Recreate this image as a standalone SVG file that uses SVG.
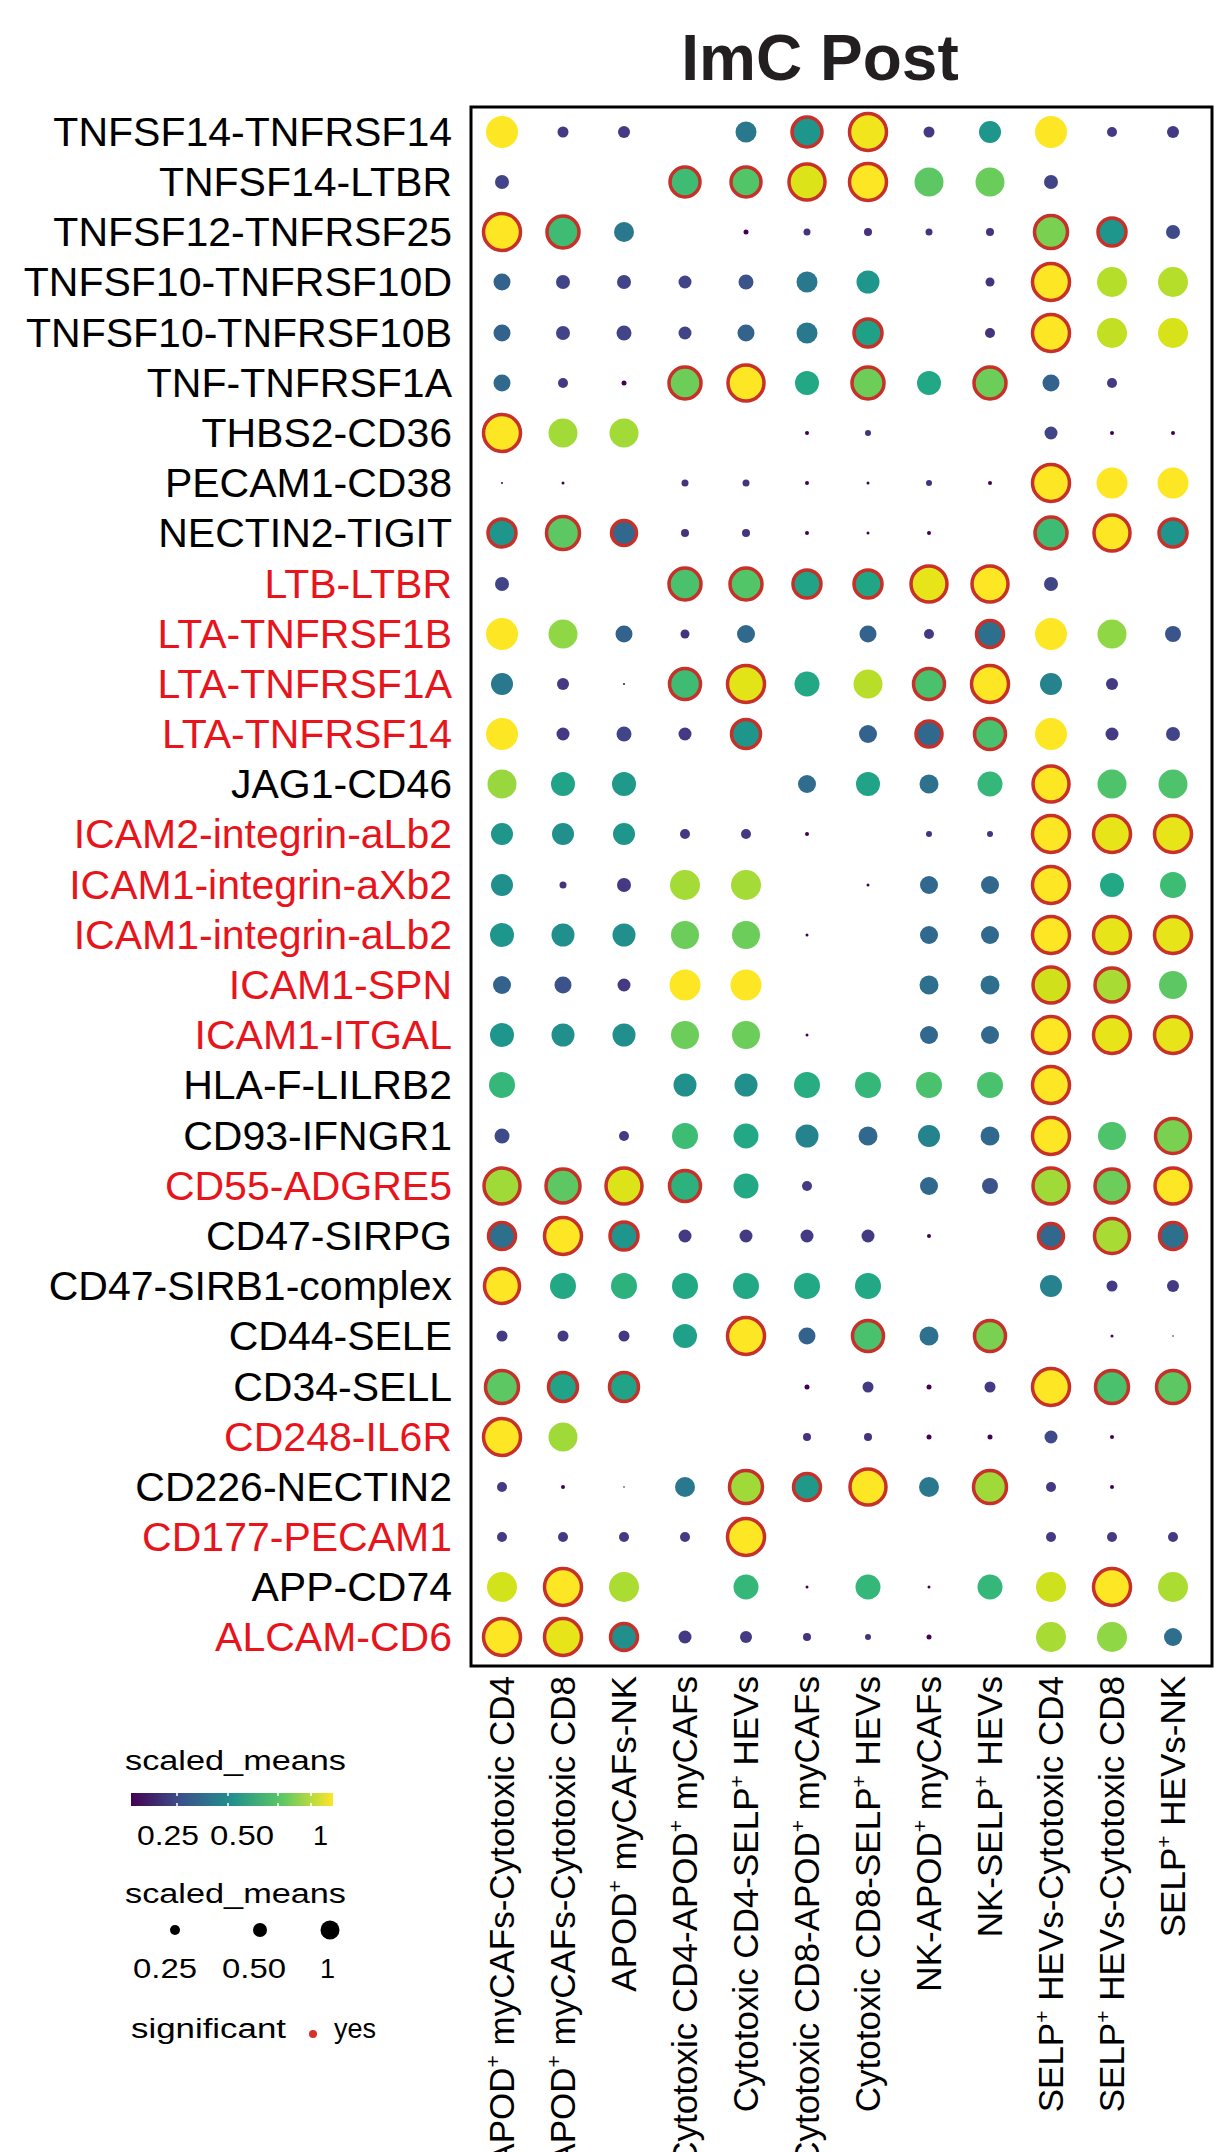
<svg xmlns="http://www.w3.org/2000/svg" width="1226" height="2152" viewBox="0 0 1226 2152">
<style>
text{font-family:"Liberation Sans",Arial,sans-serif;fill:#000}
.rl{font-size:41px;text-anchor:end}
.red{fill:#E8141B}
.cl{font-size:35px;text-anchor:end}
.lg{font-size:27px}
.s{stroke:#C8302A;stroke-width:3.5}
</style>
<defs>
<linearGradient id="vir" x1="0" x2="1" y1="0" y2="0">
<stop offset="0" stop-color="#440154"/><stop offset="0.25" stop-color="#3B528B"/><stop offset="0.5" stop-color="#21908D"/><stop offset="0.75" stop-color="#5DC863"/><stop offset="1" stop-color="#FDE725"/>
</linearGradient>
</defs>
<rect width="1226" height="2152" fill="#fff"/>
<text x="820" y="80" style="font-size:64px;font-weight:bold;text-anchor:middle;fill:#231f20">ImC Post</text>
<rect x="471" y="107" width="741" height="1559" fill="none" stroke="#000" stroke-width="3"/>
<g id="row-labels">
<text class="rl" x="452" y="146">TNFSF14-TNFRSF14</text>
<text class="rl" x="452" y="196">TNFSF14-LTBR</text>
<text class="rl" x="452" y="246">TNFSF12-TNFRSF25</text>
<text class="rl" x="452" y="296">TNFSF10-TNFRSF10D</text>
<text class="rl" x="452" y="347">TNFSF10-TNFRSF10B</text>
<text class="rl" x="452" y="397">TNF-TNFRSF1A</text>
<text class="rl" x="452" y="447">THBS2-CD36</text>
<text class="rl" x="452" y="497">PECAM1-CD38</text>
<text class="rl" x="452" y="547">NECTIN2-TIGIT</text>
<text class="rl red" x="452" y="598">LTB-LTBR</text>
<text class="rl red" x="452" y="648">LTA-TNFRSF1B</text>
<text class="rl red" x="452" y="698">LTA-TNFRSF1A</text>
<text class="rl red" x="452" y="748">LTA-TNFRSF14</text>
<text class="rl" x="452" y="798">JAG1-CD46</text>
<text class="rl red" x="452" y="848">ICAM2-integrin-aLb2</text>
<text class="rl red" x="452" y="899">ICAM1-integrin-aXb2</text>
<text class="rl red" x="452" y="949">ICAM1-integrin-aLb2</text>
<text class="rl red" x="452" y="999">ICAM1-SPN</text>
<text class="rl red" x="452" y="1049">ICAM1-ITGAL</text>
<text class="rl" x="452" y="1099">HLA-F-LILRB2</text>
<text class="rl" x="452" y="1150">CD93-IFNGR1</text>
<text class="rl red" x="452" y="1200">CD55-ADGRE5</text>
<text class="rl" x="452" y="1250">CD47-SIRPG</text>
<text class="rl" x="452" y="1300">CD47-SIRB1-complex</text>
<text class="rl" x="452" y="1350">CD44-SELE</text>
<text class="rl" x="452" y="1401">CD34-SELL</text>
<text class="rl red" x="452" y="1451">CD248-IL6R</text>
<text class="rl" x="452" y="1501">CD226-NECTIN2</text>
<text class="rl red" x="452" y="1551">CD177-PECAM1</text>
<text class="rl" x="452" y="1601">APP-CD74</text>
<text class="rl red" x="452" y="1651">ALCAM-CD6</text>
</g>
<g id="col-labels">
<text class="cl" transform="translate(514,1676) rotate(-90)">APOD<tspan font-size="21" dy="-14">+</tspan><tspan dy="14"> myCAFs-Cytotoxic CD4</tspan></text>
<text class="cl" transform="translate(575,1676) rotate(-90)">APOD<tspan font-size="21" dy="-14">+</tspan><tspan dy="14"> myCAFs-Cytotoxic CD8</tspan></text>
<text class="cl" transform="translate(636,1676) rotate(-90)">APOD<tspan font-size="21" dy="-14">+</tspan><tspan dy="14"> myCAFs-NK</tspan></text>
<text class="cl" transform="translate(697,1676) rotate(-90)">Cytotoxic CD4-APOD<tspan font-size="21" dy="-14">+</tspan><tspan dy="14"> myCAFs</tspan></text>
<text class="cl" transform="translate(758,1676) rotate(-90)">Cytotoxic CD4-SELP<tspan font-size="21" dy="-14">+</tspan><tspan dy="14"> HEVs</tspan></text>
<text class="cl" transform="translate(819,1676) rotate(-90)">Cytotoxic CD8-APOD<tspan font-size="21" dy="-14">+</tspan><tspan dy="14"> myCAFs</tspan></text>
<text class="cl" transform="translate(880,1676) rotate(-90)">Cytotoxic CD8-SELP<tspan font-size="21" dy="-14">+</tspan><tspan dy="14"> HEVs</tspan></text>
<text class="cl" transform="translate(941,1676) rotate(-90)">NK-APOD<tspan font-size="21" dy="-14">+</tspan><tspan dy="14"> myCAFs</tspan></text>
<text class="cl" transform="translate(1002,1676) rotate(-90)">NK-SELP<tspan font-size="21" dy="-14">+</tspan><tspan dy="14"> HEVs</tspan></text>
<text class="cl" transform="translate(1063,1676) rotate(-90)">SELP<tspan font-size="21" dy="-14">+</tspan><tspan dy="14"> HEVs-Cytotoxic CD4</tspan></text>
<text class="cl" transform="translate(1124,1676) rotate(-90)">SELP<tspan font-size="21" dy="-14">+</tspan><tspan dy="14"> HEVs-Cytotoxic CD8</tspan></text>
<text class="cl" transform="translate(1185,1676) rotate(-90)">SELP<tspan font-size="21" dy="-14">+</tspan><tspan dy="14"> HEVs-NK</tspan></text>
</g>
<g id="dots">
<g transform="translate(0,132)">
<circle cx="502" r="16" fill="#FDE725"/><circle cx="563" r="5.5" fill="#443A83"/><circle cx="624" r="6" fill="#443A83"/><circle cx="746" r="10.5" fill="#2A788E"/><circle cx="807" r="15" fill="#1F968B" class="s"/><circle cx="868" r="18.5" fill="#F1E51D" class="s"/><circle cx="929" r="5.5" fill="#443A83"/><circle cx="990" r="11" fill="#1F968B"/><circle cx="1051" r="16" fill="#FDE725"/><circle cx="1112" r="5" fill="#443A83"/><circle cx="1173" r="6" fill="#443A83"/>
</g>
<g transform="translate(0,182)">
<circle cx="502" r="7" fill="#414487"/><circle cx="685" r="15" fill="#3FBC73" class="s"/><circle cx="746" r="15" fill="#52C569" class="s"/><circle cx="807" r="18" fill="#DCE319" class="s"/><circle cx="868" r="18.5" fill="#FDE725" class="s"/><circle cx="929" r="14.5" fill="#5DC863"/><circle cx="990" r="14.5" fill="#6ACD5B"/><circle cx="1051" r="7" fill="#414487"/>
</g>
<g transform="translate(0,232)">
<circle cx="502" r="18.5" fill="#FDE725" class="s"/><circle cx="563" r="16" fill="#3FBC73" class="s"/><circle cx="624" r="10" fill="#2A788E"/><circle cx="746" r="2.5" fill="#440154"/><circle cx="807" r="3.5" fill="#46337E"/><circle cx="868" r="4" fill="#46337E"/><circle cx="929" r="3.5" fill="#46337E"/><circle cx="990" r="4" fill="#46337E"/><circle cx="1051" r="16.5" fill="#7AD151" class="s"/><circle cx="1112" r="14" fill="#1F968B" class="s"/><circle cx="1173" r="7" fill="#3E4A89"/>
</g>
<g transform="translate(0,282)">
<circle cx="502" r="8.5" fill="#33638D"/><circle cx="563" r="7" fill="#414487"/><circle cx="624" r="7" fill="#414487"/><circle cx="685" r="6.5" fill="#414487"/><circle cx="746" r="7.5" fill="#3B528B"/><circle cx="807" r="10.5" fill="#2A788E"/><circle cx="868" r="11.5" fill="#1F968B"/><circle cx="990" r="4.5" fill="#46337E"/><circle cx="1051" r="18.5" fill="#FDE725" class="s"/><circle cx="1112" r="15" fill="#B5DE2B"/><circle cx="1173" r="15" fill="#B5DE2B"/>
</g>
<g transform="translate(0,333)">
<circle cx="502" r="8.5" fill="#33638D"/><circle cx="563" r="7" fill="#414487"/><circle cx="624" r="7.5" fill="#414487"/><circle cx="685" r="6.5" fill="#414487"/><circle cx="746" r="8.5" fill="#33638D"/><circle cx="807" r="10.5" fill="#2A788E"/><circle cx="868" r="14" fill="#1FA187" class="s"/><circle cx="990" r="5" fill="#46337E"/><circle cx="1051" r="18.5" fill="#FDE725" class="s"/><circle cx="1112" r="15" fill="#C2DF23"/><circle cx="1173" r="15" fill="#D8E219"/>
</g>
<g transform="translate(0,383)">
<circle cx="502" r="8.5" fill="#31688E"/><circle cx="563" r="5" fill="#443A83"/><circle cx="624" r="2.5" fill="#440154"/><circle cx="685" r="16" fill="#6DCD59" class="s"/><circle cx="746" r="18" fill="#FDE725" class="s"/><circle cx="807" r="12" fill="#22A884"/><circle cx="868" r="16" fill="#6DCD59" class="s"/><circle cx="929" r="12" fill="#22A884"/><circle cx="990" r="16" fill="#6DCD59" class="s"/><circle cx="1051" r="8.5" fill="#33638D"/><circle cx="1112" r="5" fill="#443A83"/>
</g>
<g transform="translate(0,433)">
<circle cx="502" r="18.5" fill="#FDE725" class="s"/><circle cx="563" r="14.5" fill="#A2DA37"/><circle cx="624" r="14.5" fill="#A2DA37"/><circle cx="807" r="2" fill="#440154"/><circle cx="868" r="3" fill="#46337E"/><circle cx="1051" r="6.5" fill="#414487"/><circle cx="1112" r="2" fill="#440154"/><circle cx="1173" r="2" fill="#440154"/>
</g>
<g transform="translate(0,483)">
<circle cx="502" r="1" fill="#440154"/><circle cx="563" r="1.5" fill="#440154"/><circle cx="685" r="3.5" fill="#46337E"/><circle cx="746" r="3.5" fill="#46337E"/><circle cx="807" r="2" fill="#440154"/><circle cx="868" r="1.5" fill="#440154"/><circle cx="929" r="3" fill="#46337E"/><circle cx="990" r="2" fill="#440154"/><circle cx="1051" r="18.5" fill="#FDE725" class="s"/><circle cx="1112" r="15.5" fill="#FDE725"/><circle cx="1173" r="15.5" fill="#FDE725"/>
</g>
<g transform="translate(0,533)">
<circle cx="502" r="14" fill="#1F968B" class="s"/><circle cx="563" r="16.5" fill="#5DC863" class="s"/><circle cx="624" r="12.5" fill="#31688E" class="s"/><circle cx="685" r="4" fill="#46337E"/><circle cx="746" r="4" fill="#46337E"/><circle cx="807" r="2" fill="#440154"/><circle cx="868" r="1.5" fill="#440154"/><circle cx="929" r="2" fill="#440154"/><circle cx="1051" r="16" fill="#3FBC73" class="s"/><circle cx="1112" r="18" fill="#FDE725" class="s"/><circle cx="1173" r="14" fill="#1F968B" class="s"/>
</g>
<g transform="translate(0,584)">
<circle cx="502" r="7" fill="#414487"/><circle cx="685" r="16" fill="#4AC16D" class="s"/><circle cx="746" r="16" fill="#52C569" class="s"/><circle cx="807" r="14" fill="#20A386" class="s"/><circle cx="868" r="14" fill="#21A685" class="s"/><circle cx="929" r="18" fill="#E7E419" class="s"/><circle cx="990" r="18" fill="#FDE725" class="s"/><circle cx="1051" r="7" fill="#414487"/>
</g>
<g transform="translate(0,634)">
<circle cx="502" r="16" fill="#FDE725"/><circle cx="563" r="14.5" fill="#8FD744"/><circle cx="624" r="8.5" fill="#33638D"/><circle cx="685" r="4.5" fill="#46337E"/><circle cx="746" r="9" fill="#31688E"/><circle cx="868" r="8.5" fill="#33638D"/><circle cx="929" r="5" fill="#443A83"/><circle cx="990" r="13.5" fill="#2D708E" class="s"/><circle cx="1051" r="16" fill="#FDE725"/><circle cx="1112" r="14.5" fill="#8FD744"/><circle cx="1173" r="8" fill="#3A548C"/>
</g>
<g transform="translate(0,684)">
<circle cx="502" r="11" fill="#2A788E"/><circle cx="563" r="6" fill="#443A83"/><circle cx="624" r="1" fill="#440154"/><circle cx="685" r="15.5" fill="#3FBC73" class="s"/><circle cx="746" r="18.5" fill="#E2E418" class="s"/><circle cx="807" r="12.5" fill="#22A884"/><circle cx="868" r="14.5" fill="#B8DE29"/><circle cx="929" r="15.5" fill="#4AC16D" class="s"/><circle cx="990" r="18.5" fill="#FDE725" class="s"/><circle cx="1051" r="11" fill="#25838E"/><circle cx="1112" r="6" fill="#443A83"/>
</g>
<g transform="translate(0,734)">
<circle cx="502" r="16" fill="#FDE725"/><circle cx="563" r="6.5" fill="#443A83"/><circle cx="624" r="7.5" fill="#414487"/><circle cx="685" r="6.5" fill="#443A83"/><circle cx="746" r="14.5" fill="#1F968B" class="s"/><circle cx="868" r="9" fill="#33638D"/><circle cx="929" r="13" fill="#30698E" class="s"/><circle cx="990" r="15.5" fill="#4AC16D" class="s"/><circle cx="1051" r="16" fill="#FDE725"/><circle cx="1112" r="6.5" fill="#443A83"/><circle cx="1173" r="7" fill="#414487"/>
</g>
<g transform="translate(0,784)">
<circle cx="502" r="14.5" fill="#98D83E"/><circle cx="563" r="12" fill="#20A386"/><circle cx="624" r="12" fill="#1F9A8A"/><circle cx="807" r="9" fill="#2F6C8E"/><circle cx="868" r="12" fill="#20A386"/><circle cx="929" r="9.5" fill="#2D718E"/><circle cx="990" r="12.5" fill="#35B779"/><circle cx="1051" r="18" fill="#FDE725" class="s"/><circle cx="1112" r="14.5" fill="#4EC36B"/><circle cx="1173" r="14.5" fill="#4EC36B"/>
</g>
<g transform="translate(0,834)">
<circle cx="502" r="11" fill="#1F968B"/><circle cx="563" r="11" fill="#21908D"/><circle cx="624" r="11" fill="#1F968B"/><circle cx="685" r="5" fill="#443A83"/><circle cx="746" r="5" fill="#443A83"/><circle cx="807" r="2" fill="#440154"/><circle cx="929" r="3" fill="#46337E"/><circle cx="990" r="3" fill="#46337E"/><circle cx="1051" r="18.5" fill="#FDE725" class="s"/><circle cx="1112" r="18.5" fill="#E7E419" class="s"/><circle cx="1173" r="18.5" fill="#E7E419" class="s"/>
</g>
<g transform="translate(0,885)">
<circle cx="502" r="11" fill="#21908D"/><circle cx="563" r="3.5" fill="#46337E"/><circle cx="624" r="7" fill="#443A83"/><circle cx="685" r="15" fill="#A5DB36"/><circle cx="746" r="15" fill="#A5DB36"/><circle cx="868" r="1.5" fill="#440154"/><circle cx="929" r="9" fill="#31688E"/><circle cx="990" r="9" fill="#31688E"/><circle cx="1051" r="18.5" fill="#FDE725" class="s"/><circle cx="1112" r="12" fill="#22A884"/><circle cx="1173" r="13" fill="#3DBC74"/>
</g>
<g transform="translate(0,935)">
<circle cx="502" r="12" fill="#1F968B"/><circle cx="563" r="11.5" fill="#21908D"/><circle cx="624" r="11.5" fill="#21908D"/><circle cx="685" r="14" fill="#6CCD5A"/><circle cx="746" r="14" fill="#6CCD5A"/><circle cx="807" r="1.5" fill="#440154"/><circle cx="929" r="9" fill="#31688E"/><circle cx="990" r="9" fill="#31688E"/><circle cx="1051" r="18.5" fill="#FDE725" class="s"/><circle cx="1112" r="18.5" fill="#E7E419" class="s"/><circle cx="1173" r="18.5" fill="#E7E419" class="s"/>
</g>
<g transform="translate(0,985)">
<circle cx="502" r="9" fill="#33638D"/><circle cx="563" r="8.5" fill="#3B528B"/><circle cx="624" r="6.5" fill="#443A83"/><circle cx="685" r="15.5" fill="#FDE725"/><circle cx="746" r="15.5" fill="#FDE725"/><circle cx="929" r="9.5" fill="#2E6F8E"/><circle cx="990" r="9.5" fill="#2E6F8E"/><circle cx="1051" r="18" fill="#D0E11C" class="s"/><circle cx="1112" r="17" fill="#A8DB34" class="s"/><circle cx="1173" r="14" fill="#5DC863"/>
</g>
<g transform="translate(0,1035)">
<circle cx="502" r="12" fill="#1F968B"/><circle cx="563" r="11.5" fill="#21908D"/><circle cx="624" r="11.5" fill="#21908D"/><circle cx="685" r="14" fill="#6CCD5A"/><circle cx="746" r="14" fill="#6CCD5A"/><circle cx="807" r="1.5" fill="#440154"/><circle cx="929" r="9" fill="#31688E"/><circle cx="990" r="9" fill="#31688E"/><circle cx="1051" r="18.5" fill="#FDE725" class="s"/><circle cx="1112" r="18.5" fill="#E7E419" class="s"/><circle cx="1173" r="18.5" fill="#E7E419" class="s"/>
</g>
<g transform="translate(0,1085)">
<circle cx="502" r="13" fill="#35B779"/><circle cx="685" r="11.5" fill="#21908D"/><circle cx="746" r="11.5" fill="#21908D"/><circle cx="807" r="13" fill="#27AD81"/><circle cx="868" r="13" fill="#35B779"/><circle cx="929" r="13" fill="#4AC16D"/><circle cx="990" r="13" fill="#4AC16D"/><circle cx="1051" r="18.5" fill="#FDE725" class="s"/>
</g>
<g transform="translate(0,1136)">
<circle cx="502" r="7.5" fill="#3E4A89"/><circle cx="624" r="5" fill="#443A83"/><circle cx="685" r="13" fill="#3DBC74"/><circle cx="746" r="12.5" fill="#22A884"/><circle cx="807" r="11.5" fill="#25838E"/><circle cx="868" r="9.5" fill="#31688E"/><circle cx="929" r="11" fill="#25838E"/><circle cx="990" r="9.5" fill="#31688E"/><circle cx="1051" r="18.5" fill="#FDE725" class="s"/><circle cx="1112" r="14" fill="#4EC36B"/><circle cx="1173" r="17.5" fill="#7AD151" class="s"/>
</g>
<g transform="translate(0,1186)">
<circle cx="502" r="18" fill="#A0DA39" class="s"/><circle cx="563" r="17" fill="#5DC863" class="s"/><circle cx="624" r="18" fill="#DCE319" class="s"/><circle cx="685" r="15.5" fill="#2DB27D" class="s"/><circle cx="746" r="12.5" fill="#22A884"/><circle cx="807" r="5" fill="#443A83"/><circle cx="929" r="9" fill="#31688E"/><circle cx="990" r="8" fill="#3B528B"/><circle cx="1051" r="18" fill="#A0DA39" class="s"/><circle cx="1112" r="17" fill="#6CCD5A" class="s"/><circle cx="1173" r="18" fill="#FDE725" class="s"/>
</g>
<g transform="translate(0,1236)">
<circle cx="502" r="13.5" fill="#2D708E" class="s"/><circle cx="563" r="18.5" fill="#FDE725" class="s"/><circle cx="624" r="14" fill="#1F968B" class="s"/><circle cx="685" r="6.5" fill="#443A83"/><circle cx="746" r="6.5" fill="#443A83"/><circle cx="807" r="6.5" fill="#443A83"/><circle cx="868" r="6.5" fill="#443A83"/><circle cx="929" r="2" fill="#440154"/><circle cx="1051" r="12.5" fill="#31688E" class="s"/><circle cx="1112" r="17.5" fill="#A8DB34" class="s"/><circle cx="1173" r="13.5" fill="#2D708E" class="s"/>
</g>
<g transform="translate(0,1286)">
<circle cx="502" r="17.5" fill="#FDE725" class="s"/><circle cx="563" r="13" fill="#22A884"/><circle cx="624" r="13" fill="#2DB27D"/><circle cx="685" r="13" fill="#22A884"/><circle cx="746" r="13" fill="#22A884"/><circle cx="807" r="13" fill="#22A884"/><circle cx="868" r="13" fill="#22A884"/><circle cx="1051" r="11" fill="#26828E"/><circle cx="1112" r="5.5" fill="#443A83"/><circle cx="1173" r="6" fill="#443A83"/>
</g>
<g transform="translate(0,1336)">
<circle cx="502" r="5.5" fill="#443A83"/><circle cx="563" r="5.5" fill="#443A83"/><circle cx="624" r="5.5" fill="#443A83"/><circle cx="685" r="12" fill="#1FA088"/><circle cx="746" r="18.5" fill="#FDE725" class="s"/><circle cx="807" r="8.5" fill="#33638D"/><circle cx="868" r="15.5" fill="#4AC16D" class="s"/><circle cx="929" r="9.5" fill="#2D718E"/><circle cx="990" r="15.5" fill="#7AD151" class="s"/><circle cx="1112" r="1.5" fill="#440154"/><circle cx="1173" r="0.8" fill="#440154"/>
</g>
<g transform="translate(0,1387)">
<circle cx="502" r="16.5" fill="#5DC863" class="s"/><circle cx="563" r="14.5" fill="#20A386" class="s"/><circle cx="624" r="14.5" fill="#20A386" class="s"/><circle cx="807" r="2.5" fill="#440154"/><circle cx="868" r="5.5" fill="#443A83"/><circle cx="929" r="2.5" fill="#440154"/><circle cx="990" r="5.5" fill="#443A83"/><circle cx="1051" r="18.5" fill="#FDE725" class="s"/><circle cx="1112" r="16.5" fill="#4AC16D" class="s"/><circle cx="1173" r="16.5" fill="#5DC863" class="s"/>
</g>
<g transform="translate(0,1437)">
<circle cx="502" r="18.5" fill="#FDE725" class="s"/><circle cx="563" r="14.5" fill="#A0DA39"/><circle cx="807" r="4" fill="#46337E"/><circle cx="868" r="4" fill="#46337E"/><circle cx="929" r="2.5" fill="#440154"/><circle cx="990" r="2.5" fill="#440154"/><circle cx="1051" r="6.5" fill="#3E4A89"/><circle cx="1112" r="2" fill="#440154"/>
</g>
<g transform="translate(0,1487)">
<circle cx="502" r="5" fill="#443A83"/><circle cx="563" r="2" fill="#440154"/><circle cx="624" r="0.8" fill="#440154"/><circle cx="685" r="10" fill="#2A788E"/><circle cx="746" r="16.5" fill="#A0DA39" class="s"/><circle cx="807" r="13.5" fill="#1F9A8A" class="s"/><circle cx="868" r="18" fill="#FDE725" class="s"/><circle cx="929" r="10" fill="#2A788E"/><circle cx="990" r="16.5" fill="#A0DA39" class="s"/><circle cx="1051" r="5" fill="#443A83"/><circle cx="1112" r="2" fill="#440154"/>
</g>
<g transform="translate(0,1537)">
<circle cx="502" r="5" fill="#443A83"/><circle cx="563" r="5" fill="#443A83"/><circle cx="624" r="5" fill="#443A83"/><circle cx="685" r="5" fill="#443A83"/><circle cx="746" r="18.5" fill="#FDE725" class="s"/><circle cx="1051" r="5" fill="#443A83"/><circle cx="1112" r="5" fill="#443A83"/><circle cx="1173" r="5" fill="#443A83"/>
</g>
<g transform="translate(0,1587)">
<circle cx="502" r="15" fill="#D2E21B"/><circle cx="563" r="18.5" fill="#FDE725" class="s"/><circle cx="624" r="15" fill="#AADC32"/><circle cx="746" r="12.5" fill="#35B779"/><circle cx="807" r="1.5" fill="#440154"/><circle cx="868" r="12.5" fill="#35B779"/><circle cx="929" r="1.5" fill="#440154"/><circle cx="990" r="12.5" fill="#35B779"/><circle cx="1051" r="15" fill="#CDE11D"/><circle cx="1112" r="18.5" fill="#FDE725" class="s"/><circle cx="1173" r="15" fill="#AADC32"/>
</g>
<g transform="translate(0,1637)">
<circle cx="502" r="18.5" fill="#FDE725" class="s"/><circle cx="563" r="18.5" fill="#E7E419" class="s"/><circle cx="624" r="13.5" fill="#21908D" class="s"/><circle cx="685" r="6.5" fill="#443A83"/><circle cx="746" r="6" fill="#443A83"/><circle cx="807" r="4" fill="#46337E"/><circle cx="868" r="3" fill="#46337E"/><circle cx="929" r="2.5" fill="#440154"/><circle cx="1051" r="15" fill="#A8DB34"/><circle cx="1112" r="15" fill="#8FD744"/><circle cx="1173" r="9" fill="#2E6F8E"/>
</g>
</g>
<g id="legend">
<text class="lg" x="125" y="1770" textLength="221" lengthAdjust="spacingAndGlyphs">scaled_means</text>
<rect x="131" y="1793" width="202" height="13" fill="url(#vir)"/>
<g stroke="#fff" stroke-width="1.5"><line x1="177" y1="1793" x2="177" y2="1796"/><line x1="177" y1="1803" x2="177" y2="1806"/><line x1="228" y1="1793" x2="228" y2="1796"/><line x1="228" y1="1803" x2="228" y2="1806"/><line x1="278" y1="1793" x2="278" y2="1796"/><line x1="278" y1="1803" x2="278" y2="1806"/><line x1="311" y1="1793" x2="311" y2="1796"/><line x1="311" y1="1803" x2="311" y2="1806"/></g>
<text class="lg" x="137" y="1845" textLength="62" lengthAdjust="spacingAndGlyphs">0.25</text>
<text class="lg" x="210" y="1845" textLength="64" lengthAdjust="spacingAndGlyphs">0.50</text>
<text class="lg" x="313" y="1845">1</text>
<text class="lg" x="125" y="1903" textLength="221" lengthAdjust="spacingAndGlyphs">scaled_means</text>
<circle cx="175" cy="1930" r="5" fill="#000"/><circle cx="260" cy="1930" r="7" fill="#000"/><circle cx="330" cy="1930" r="9.5" fill="#000"/>
<text class="lg" x="133" y="1978" textLength="64" lengthAdjust="spacingAndGlyphs">0.25</text>
<text class="lg" x="222" y="1978" textLength="64" lengthAdjust="spacingAndGlyphs">0.50</text>
<text class="lg" x="320" y="1978">1</text>
<text class="lg" x="131" y="2038" textLength="155" lengthAdjust="spacingAndGlyphs">significant</text>
<circle cx="313" cy="2034" r="4" fill="#D7312B"/>
<text class="lg" x="334" y="2038">yes</text>
</g>
</svg>
